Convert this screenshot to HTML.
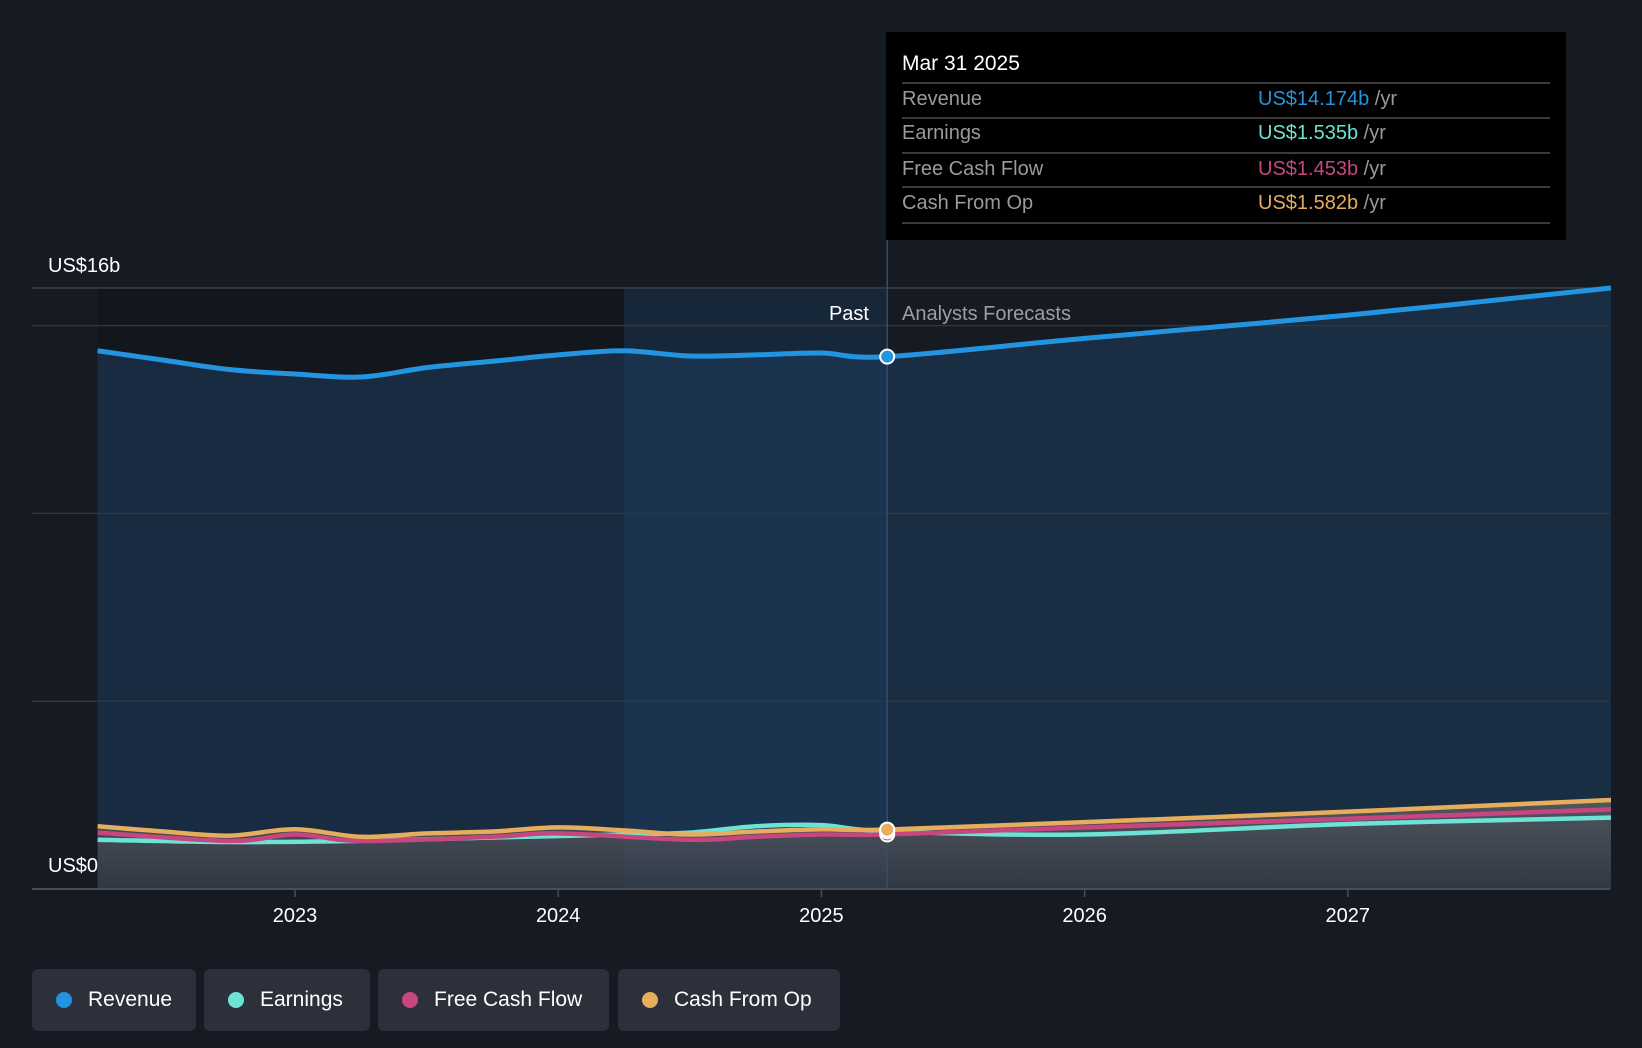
<!DOCTYPE html>
<html><head><meta charset="utf-8"><style>
body{margin:0;background:#151a23;width:1642px;height:1048px;overflow:hidden;font-family:"Liberation Sans",sans-serif}
svg{position:absolute;left:0;top:0}
.leg{position:absolute;top:969px;height:62px;background:#2c303a;border-radius:6px;color:#fff;font-size:21px;line-height:62px;box-sizing:border-box;padding-left:56px}
.leg i{position:absolute;left:24px;top:23px;width:16px;height:16px;border-radius:50%}
</style></head><body>
<svg id="chart" width="1642" height="1048"></svg>
<div class="leg" style="left:32px;width:164px"><i style="background:#2394e0"></i>Revenue</div>
<div class="leg" style="left:204px;width:166px"><i style="background:#6ce3d4"></i>Earnings</div>
<div class="leg" style="left:378px;width:231px"><i style="background:#c7467f"></i>Free Cash Flow</div>
<div class="leg" style="left:618px;width:222px"><i style="background:#e6ad5c"></i>Cash From Op</div>
<script>
const revT=[2022.25,2022.5,2022.75,2023.0,2023.25,2023.5,2023.75,2024.0,2024.25,2024.5,2024.75,2025.0,2025.25,2026.0,2027.0,2028.0];
const revV=[14.33,14.08,13.83,13.71,13.63,13.88,14.05,14.22,14.33,14.19,14.22,14.27,14.174,14.66,15.28,16.0];
const earnT=[2022.25,2022.75,2023.25,2023.75,2024.25,2024.5,2024.75,2025.0,2025.25,2026.0,2027.0,2028.0];
const earnV=[1.31,1.25,1.28,1.37,1.45,1.5,1.67,1.70,1.535,1.45,1.73,1.9];
const fcfT=[2022.25,2022.75,2023.0,2023.25,2023.75,2024.0,2024.5,2024.75,2025.0,2025.25,2026.0,2027.0,2028.0];
const fcfV=[1.5,1.28,1.45,1.28,1.39,1.48,1.31,1.39,1.45,1.453,1.64,1.87,2.12];
const cfoT=[2022.25,2022.5,2022.75,2023.0,2023.25,2023.5,2023.75,2024.0,2024.25,2024.5,2024.75,2025.0,2025.25,2026.0,2027.0,2028.0];
const cfoV=[1.67,1.53,1.42,1.59,1.39,1.48,1.53,1.64,1.56,1.45,1.53,1.59,1.582,1.78,2.06,2.37];
const yTicks=[5,10,15];
const xTicks=[2023,2024,2025,2026,2027];
const NS="http://www.w3.org/2000/svg";
const svg=document.getElementById('chart');
const X=t=>295+(t-2023)*263.2;
const Y=v=>889-v*37.56;
const nowT=2025.25, pastT=2024.25;
function mk(tag,attrs,name,parent){const e=document.createElementNS(NS,tag);for(const k in attrs)e.setAttribute(k,attrs[k]);


(parent||svg).appendChild(e);return e;}
function path(T,V){const p=T.map((t,i)=>[X(t),Y(V[i])]);let d=`M${p[0][0]},${p[0][1]}`;
for(let i=0;i<p.length-1;i++){const p0=p[i-1]||p[i],p1=p[i],p2=p[i+1],p3=p[i+2]||p2;
d+=` C${p1[0]+(p2[0]-p0[0])/6},${p1[1]+(p2[1]-p0[1])/6} ${p2[0]-(p3[0]-p1[0])/6},${p2[1]-(p3[1]-p1[1])/6} ${p2[0]},${p2[1]}`;}return d;}
const defs=document.createElementNS(NS,'defs');defs.innerHTML=`<linearGradient id="gr" x1="0" y1="0" x2="0" y2="1"><stop offset="0" stop-color="#6b6a6a" stop-opacity="0.9"/><stop offset="1" stop-color="#3a3d44" stop-opacity="0.9"/></linearGradient>`;svg.appendChild(defs);
// past background
mk('rect',{x:X(2022.25),y:288,width:X(pastT)-X(2022.25),height:601,fill:'#12161d'},'past-background');
mk('rect',{x:X(pastT),y:288,width:X(nowT)-X(pastT),height:601,fill:'#17273a'},'past-highlight');
// revenue area
const rd=path(revT,revV);
mk('path',{d:rd+` L${X(2028)},889 L${X(2022.25)},889 Z`,fill:'#1d3e5e',opacity:0.55},'revenue-area');
mk('path',{d:path(cfoT,cfoV)+` L${X(2028)},889 L${X(2022.25)},889 Z`,fill:'url(#gr)',opacity:0.75},'cash-area');
// grid
mk('line',{x1:32,x2:1610,y1:288,y2:288,stroke:'#3a3f48','stroke-width':1.5},'gridline-top');
yTicks.forEach(v=>mk('line',{x1:32,x2:1610,y1:Y(v),y2:Y(v),stroke:'#2e3742','stroke-width':1.5},'gridline'));
mk('line',{x1:32,x2:1610,y1:889,y2:889,stroke:'#4a4e57','stroke-width':2},'x-axis');
xTicks.forEach(t=>{mk('line',{x1:X(t),x2:X(t),y1:889,y2:897,stroke:'#4a4e57','stroke-width':1.5},'x-tick');
const tx=mk('text',{x:X(t),y:922,fill:'#fff','font-size':20,'text-anchor':'middle'},'x-tick-label');tx.textContent=t;});
mk('line',{x1:X(nowT),x2:X(nowT),y1:240,y2:889,stroke:'#2e4f6e','stroke-width':1.5},'now-line');
// series
[[earnT,earnV,'#6ce3d4','earnings-line'],[fcfT,fcfV,'#c7467f','free-cash-flow-line'],[cfoT,cfoV,'#e6ad5c','cash-from-op-line'],[revT,revV,'#2394e0','revenue-line']].forEach(s=>{
mk('path',{d:path(s[0],s[1]),fill:'none',stroke:s[2],'stroke-width':s[3]=='revenue-line'?5:4.5},s[3]);});
// markers
[[fcfV[fcfT.indexOf(nowT)],'#c7467f'],[earnV[earnT.indexOf(nowT)],'#6ce3d4'],[cfoV[cfoT.indexOf(nowT)],'#e6ad5c'],[revV[revT.indexOf(nowT)],'#2394e0']].forEach(m=>
mk('circle',{cx:X(nowT),cy:Y(m[0]),r:7,fill:m[1],stroke:'#fff','stroke-width':2},'marker'));
function txt(x,y,s,fill,size,anchor,name){const e=mk('text',{x,y,fill,'font-size':size,'text-anchor':anchor||'start'},name);e.textContent=s;return e;}
txt(48,272,'US$16b','#fff',20,'start','y-label-top');
txt(48,872,'US$0','#fff',20,'start','y-label-zero');
txt(869,320,'Past','#fff',20,'end','past-label');
txt(902,320,'Analysts Forecasts','#9a9ea6',20,'start','forecast-label');
// tooltip
mk('rect',{x:886,y:32,width:680,height:208,fill:'#000'},'tooltip');
txt(902,70,'Mar 31 2025','#fff',21,'start','tooltip-date');
const rows=[['Revenue','US$14.174b','#2394e0'],['Earnings','US$1.535b','#6ce3d4'],['Free Cash Flow','US$1.453b','#c7467f'],['Cash From Op','US$1.582b','#e6ad5c']];
const ry=[105,139,175,209];
[83,118,153,187,223].forEach(y=>mk('line',{x1:902,x2:1550,y1:y,y2:y,stroke:'#3a3a3a','stroke-width':2},'tooltip-divider'));
rows.forEach((r,i)=>{txt(902,ry[i],r[0],'#9a9a9a',20,'start','tooltip-label');
const t=txt(1258,ry[i],r[1],r[2],20,'start','tooltip-value');const sp=document.createElementNS(NS,'tspan');sp.setAttribute('fill','#9a9a9a');sp.textContent=' /yr';t.appendChild(sp);});
</script>
</body></html>
